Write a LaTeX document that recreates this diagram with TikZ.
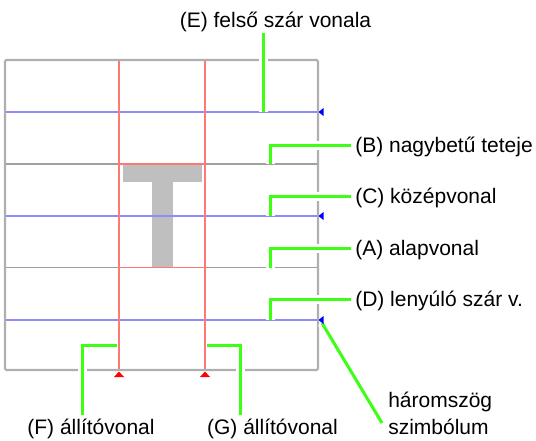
\documentclass[tikz,border=0pt]{standalone}
\usepackage{fontspec}
\setmainfont{Liberation Sans}
\definecolor{gridgrey}{RGB}{160,160,160}
\definecolor{boxgrey}{RGB}{175,175,175}
\definecolor{bluel}{RGB}{140,140,255}
\definecolor{redl}{RGB}{255,120,120}
\definecolor{leadgreen}{RGB}{60,255,20}
\definecolor{tgrey}{RGB}{191,191,191}
\definecolor{triblue}{RGB}{0,0,255}
\definecolor{trired}{RGB}{255,0,0}
\begin{document}
\begin{tikzpicture}[x=0.75pt,y=-0.75pt,
  gridline/.style={draw=gridgrey, line width=1.1pt},
  boxline/.style={draw=boxgrey, line width=1.6pt, rounded corners=1pt},
  blueline/.style={draw=bluel, line width=1pt},
  redline/.style={draw=redl, line width=0.85pt},
  lead/.style={draw=leadgreen, line width=2.25pt,
    preaction={draw=white, line width=6.75pt}},
  lbl/.style={font=\fontsize{15.75}{20}\selectfont, inner sep=0pt},
  tglyph/.style={fill=tgrey, draw=none}
]
\useasboundingbox (0,0) rectangle (536,440);

% glyph T
\fill[tglyph] (123,165) rectangle (202,182);
\fill[tglyph] (152,181) rectangle (173,267);

% guide lines
\draw[blueline] (5,112) -- (318,112);
\draw[blueline] (5,216) -- (318,216);
\draw[blueline] (5,320) -- (318,320);
\draw[gridline] (5,164) -- (318,164);
\draw[gridline] (5,267.5) -- (318,267.5);
\draw[redline] (119,60) -- (119,371);
\draw[redline] (205,60) -- (205,371);
\draw[redline, line width=1.1pt] (119,164) rectangle (205,267.5);
\draw[boxline] (5,60) rectangle (318,370);

% coordinates
\coordinate (eS) at (263,33);
\coordinate (eE) at (263,112);
\coordinate (bS) at (351,145.5);
\coordinate (bE) at (270,164);
\coordinate (cS) at (351,196);
\coordinate (cE) at (270,216);
\coordinate (aS) at (351,248);
\coordinate (aE) at (270,267.5);
\coordinate (dS) at (351,299.5);
\coordinate (dE) at (270,320);
\coordinate (fS) at (117,345);
\coordinate (fE) at (82,415);
\coordinate (gS) at (207,345);
\coordinate (gE) at (240,415);
\coordinate (hS) at (322,323);
\coordinate (hE) at (382,423);

% leaders
\draw[lead] (eS) -- (eE);
\draw[lead] (bS) -| (bE);
\draw[lead] (cS) -| (cE);
\draw[lead] (aS) -| (aE);
\draw[lead] (dS) -| (dE);
\draw[lead] (fS) -| (fE);
\draw[lead] (gS) -| (gE);
\draw[lead] (hS) -- (hE);

% triangle symbols
\fill[triblue] (318.5,112) -- (323.5,108) -- (323.5,116) -- cycle;
\fill[triblue] (318.5,216) -- (323.5,212) -- (323.5,220) -- cycle;
\fill[triblue] (318.5,320) -- (323.5,316) -- (323.5,324) -- cycle;
\fill[trired] (119,371.5) -- (114,377) -- (124,377) -- cycle;
\fill[trired] (205,371.5) -- (200,377) -- (210,377) -- cycle;

% labels
\node[lbl, anchor=base] (lE) at (275.5,27) {(E) felső szár vonala};
\node[lbl, anchor=base west] (lB) at (355,152) {(B) nagybetű teteje};
\node[lbl, anchor=base west] (lC) at (355,203) {(C) középvonal};
\node[lbl, anchor=base west] (lA) at (355,255) {(A) alapvonal};
\node[lbl, anchor=base west] (lD) at (355,306.5) {(D) lenyúló szár v.};
\node[lbl, anchor=base] (lF) at (91,434) {(F) állítóvonal};
\node[lbl, anchor=base] (lG) at (272.5,434) {(G) állítóvonal};
\node[lbl, anchor=base west] (lH1) at (388,407) {háromszög};
\node[lbl, anchor=base west] (lH2) at (388,434) {szimbólum};
\end{tikzpicture}
\end{document}
